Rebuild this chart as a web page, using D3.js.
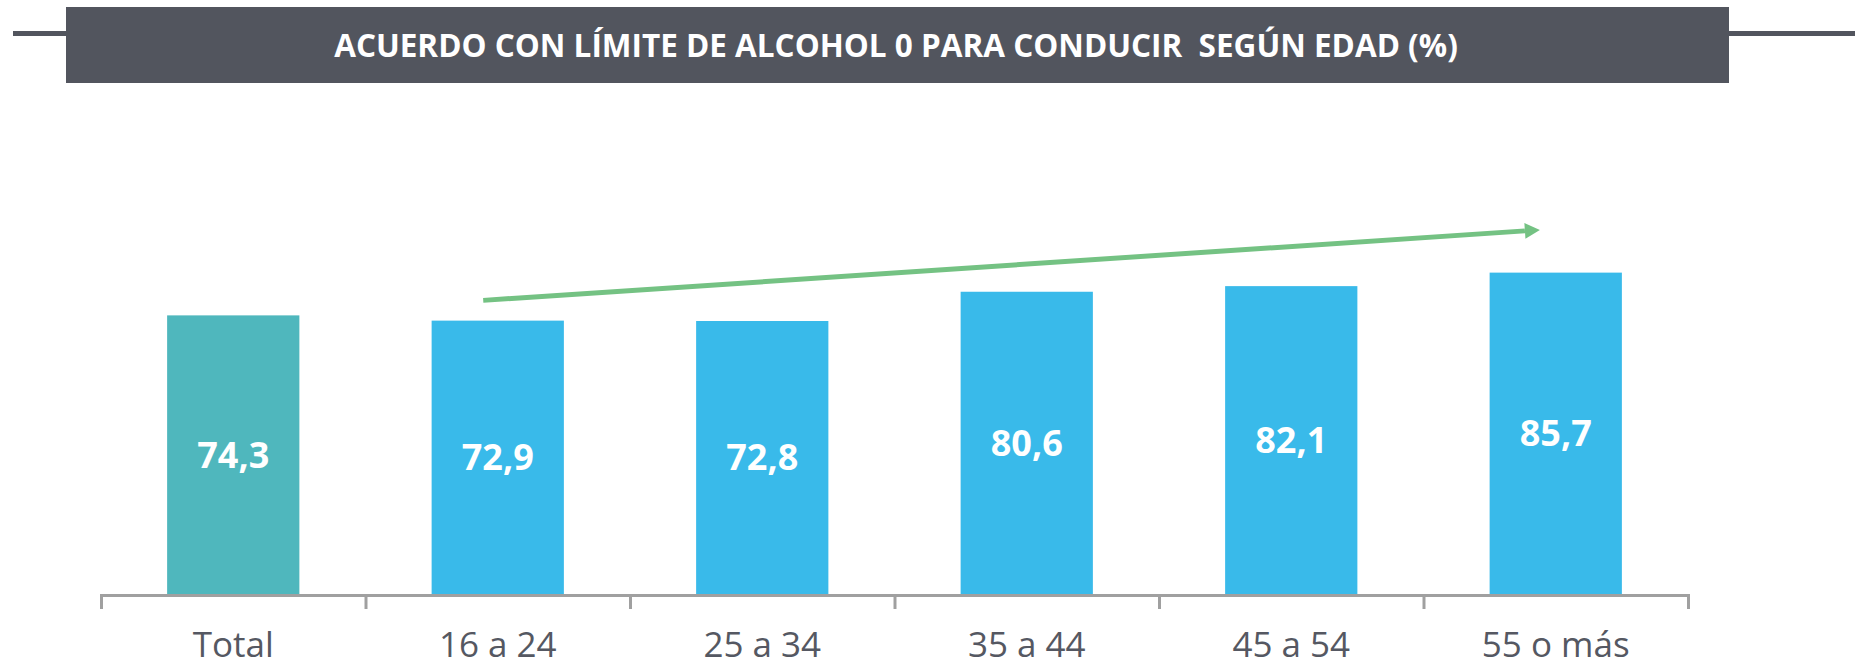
<!DOCTYPE html>
<html>
<head>
<meta charset="utf-8">
<script src="https://cdn.jsdelivr.net/npm/d3@7"></script>
<style>
  html, body { margin: 0; padding: 0; background: #fff; }
  svg { display: block; }
</style>
</head>
<body>
<script>
// data
const title = 'ACUERDO CON LÍMITE DE ALCOHOL 0 PARA CONDUCIR  SEGÚN EDAD (%)';
const categories = ['Total', '16 a 24', '25 a 34', '35 a 44', '45 a 54', '55 o más'];
const values = [74.3, 72.9, 72.8, 80.6, 82.1, 85.7];
const valueLabels = ['74,3', '72,9', '72,8', '80,6', '82,1', '85,7'];
// trend arrow, in data terms: from (category, value) to (category, value)
const arrowFrom = { cat: '16 a 24', value: 78.3 };
const arrowTo = { cat: '55 o más', value: 97.1 };

// setting canvas
const width = 1855;
const height = 667;
const margin = { left: 101, right: 167, bottom: 73 };

const svg = d3.select('body').append('svg').attr('width', width).attr('height', height);

const data = categories.map((c, i) => ({ cat: c, value: values[i], label: valueLabels[i] }));

// scales
const x = d3
  .scaleBand()
  .domain(categories)
  .range([margin.left, width - margin.right])
  .paddingInner(0.5)
  .paddingOuter(0.25);

const y = d3.scaleLinear().domain([0, 100]).range([height - margin.bottom, 219]);

// title band
svg
  .append('line')
  .attr('x1', 13)
  .attr('x2', width)
  .attr('y1', 33.5)
  .attr('y2', 33.5)
  .attr('stroke', '#52555e')
  .attr('stroke-width', 5);

svg
  .append('rect')
  .attr('x', 66)
  .attr('y', 7)
  .attr('width', 1663)
  .attr('height', 76)
  .attr('fill', '#52555e');

const titleText = svg
  .append('text')
  .attr('x', 896)
  .attr('y', 57)
  .attr('text-anchor', 'middle')
  .attr('fill', '#fff')
  .attr('font-family', 'Open Sans')
  .attr('font-weight', 700)
  .attr('font-size', 29)
  .attr('xml:space', 'preserve')
  .style('white-space', 'pre')
  .text(title);
// fit title to its width in the reference
const tw = titleText.node().getComputedTextLength();
titleText.attr('font-size', (29 * 1124) / tw);

// bars
svg
  .append('g')
  .selectAll('rect')
  .data(data)
  .join('rect')
  .attr('x', (d) => x(d.cat))
  .attr('y', (d) => y(d.value))
  .attr('width', x.bandwidth())
  .attr('height', (d) => y(0) - y(d.value))
  .attr('fill', (d, i) => (i === 0 ? '#4fb7bd' : '#39baea'));

// value labels
svg
  .append('g')
  .selectAll('text')
  .data(data)
  .join('text')
  .attr('x', (d) => x(d.cat) + x.bandwidth() / 2)
  .attr('y', (d) => (y(d.value) + y(0)) / 2)
  .attr('dy', '0.36em')
  .attr('text-anchor', 'middle')
  .attr('fill', '#fff')
  .attr('font-family', 'Open Sans')
  .attr('font-weight', 700)
  .attr('font-size', 36)
  .text((d) => d.label);

// x axis: line with ticks at band edges
const edges = d3.scaleLinear().domain([0, categories.length]).range(x.range());
svg
  .append('g')
  .attr('transform', `translate(0, ${y(0) + 1})`)
  .call(d3.axisBottom(edges).ticks(categories.length).tickSize(14).tickSizeOuter(14).tickFormat(''))
  .call((g) => g.selectAll('path, line').attr('stroke', '#a0a0a0').attr('stroke-width', 3));

// category labels
svg
  .append('g')
  .attr('transform', `translate(0, ${y(0)})`)
  .call(d3.axisBottom(x).tickSize(0).tickPadding(0))
  .call((g) => g.select('.domain').remove())
  .call((g) =>
    g
      .selectAll('text')
      .attr('y', 63)
      .attr('dy', 0)
      .attr('fill', '#555862')
      .attr('font-family', 'Open Sans')
      .attr('font-size', 35)
  );

// trend arrow
const ax1 = x(arrowFrom.cat) + x.bandwidth() * 0.39;
const ay1 = y(arrowFrom.value);
const ax2 = x(arrowTo.cat) + x.bandwidth() * 0.38;
const ay2 = y(arrowTo.value);
const ang = Math.atan2(ay2 - ay1, ax2 - ax1);
const headLen = 15;
const headHalf = 8;
const bx = ax2 - headLen * Math.cos(ang);
const by = ay2 - headLen * Math.sin(ang);

svg
  .append('line')
  .attr('x1', ax1)
  .attr('y1', ay1)
  .attr('x2', bx)
  .attr('y2', by)
  .attr('stroke', '#74c283')
  .attr('stroke-width', 5);

svg
  .append('path')
  .attr(
    'd',
    d3.line()([
      [ax2, ay2],
      [bx - headHalf * Math.sin(ang), by + headHalf * Math.cos(ang)],
      [bx + headHalf * Math.sin(ang), by - headHalf * Math.cos(ang)],
    ]) + 'Z'
  )
  .attr('fill', '#74c283');
</script>
</body>
</html>
